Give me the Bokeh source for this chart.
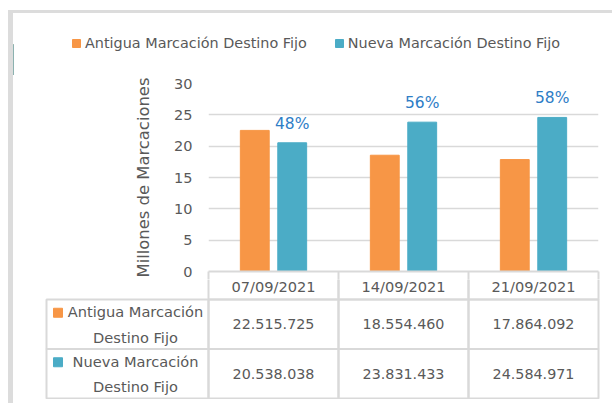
from bokeh.plotting import figure
from bokeh.models import (ColumnDataSource, Range1d, FixedTicker, Legend, LegendItem, LinearAxis)
from bokeh.transform import dodge
from bokeh.layouts import column
from bokeh.embed import file_html
from bokeh.resources import INLINE
from bokeh.core.properties import value

# ---------------- data ----------------
dates = ["07/09/2021", "14/09/2021", "21/09/2021"]
antigua = [22515725, 18554460, 17864092]
nueva = [20538038, 23831433, 24584971]
share_labels = ["48%", "56%", "58%"]
series_names = ["Antigua Marcación Destino Fijo", "Nueva Marcación Destino Fijo"]
row_labels = ["Antigua Marcación\nDestino Fijo", "Nueva Marcación\nDestino Fijo"]
y_ticks = [0, 5, 10, 15, 20, 25, 30]
y_title = "Millones de Marcaciones"

# ---------------- style ----------------
FONT = "DejaVu Sans"
TXT = "#595959"
LINE = "#d9d9d9"
FRAME = "#dcdcdc"
ORANGE = "#F79646"
TEAL = "#4BACC6"
BLUE = "#2E7DC6"

W = 591
HL = 62           # legend strip  (page y 13..75)
HA = 204          # chart          (page y 75..279), frame 83..271
HB = 120          # data table     (page y 279..399)
COLW = 130.0
LABEL_COL = (208 - 46) / COLW
PB_UNIT = 49.5                     # px per table row
HEAD = (299 - 279) / PB_UNIT       # part of the header row inside the table figure
HEAD_TXT = (285.5 - 299) / PB_UNIT

fmt = lambda v: f"{v:,}".replace(",", ".")
ncat = len(dates)
cat_pos = [i + 0.5 for i in range(ncat)]   # column centres (one column per date)

src = ColumnDataSource(dict(
    date=dates,
    pos=cat_pos,
    old_m=[v / 1e6 for v in antigua],
    new_m=[v / 1e6 for v in nueva],
    share=share_labels,
))

# ---------------- legend strip ----------------
pl = figure(x_range=Range1d(0, 1), y_range=Range1d(0, 1), width=W + 8, height=HL,
            min_border_left=0, min_border_right=0, min_border_top=0, min_border_bottom=0,
            x_axis_location=None, y_axis_location=None,
            output_backend="svg", toolbar_location=None)
pl.outline_line_color = None
pl.grid.visible = False
offscreen = ColumnDataSource(dict(x=[-10], top=[0.5]))
l_old = pl.vbar(x="x", top="top", width=0.1, source=offscreen, fill_color=ORANGE, line_color=ORANGE)
l_new = pl.vbar(x="x", top="top", width=0.1, source=offscreen, fill_color=TEAL, line_color=TEAL)
legend = Legend(items=[LegendItem(label=series_names[0], renderers=[l_old]),
                       LegendItem(label=series_names[1], renderers=[l_new])],
                orientation="horizontal", location=(58, 24),
                glyph_width=10, glyph_height=10, label_standoff=4, spacing=27,
                padding=0, margin=0, border_line_color=None, background_fill_alpha=0,
                label_text_font=FONT, label_text_font_size="14.4px", label_text_color=TXT,
                label_height=16)
pl.add_layout(legend)

# ---------------- chart figure ----------------
pa = figure(x_range=Range1d(0, ncat), y_range=Range1d(0, 30), width=W, height=HA,
            min_border_left=195, min_border_right=6, min_border_top=8, min_border_bottom=8,
            x_axis_location=None, output_backend="svg", toolbar_location=None)
pa.outline_line_color = None
pa.xgrid.visible = False
pa.ygrid.ticker = FixedTicker(ticks=y_ticks)
pa.ygrid.grid_line_color = LINE
pa.ygrid.grid_line_width = 1.5

ax = pa.yaxis[0]
ax.ticker = FixedTicker(ticks=y_ticks)
ax.axis_line_color = None
ax.major_tick_line_color = None
ax.minor_tick_line_color = None
ax.major_label_standoff = 10
ax.major_label_text_font = FONT
ax.major_label_text_font_size = "14.5px"
ax.major_label_text_color = TXT
ax.axis_label = y_title
ax.axis_label_standoff = 18
ax.axis_label_text_font = FONT
ax.axis_label_text_font_size = "16.4px"
ax.axis_label_text_font_style = "normal"
ax.axis_label_text_color = TXT

# top edge of the data table: column separators drawn as ticks of the bottom axis
cell_axis = LinearAxis(ticker=FixedTicker(ticks=list(range(ncat + 1))),
                       axis_line_color=LINE, axis_line_width=2,
                       major_tick_in=0, major_tick_out=8, major_tick_line_color=LINE,
                       major_tick_line_width=2, minor_tick_line_color=None,
                       major_label_standoff=0, major_label_text_font_size="1px",
                       major_label_text_alpha=0)
pa.add_layout(cell_axis, "below")

pa.vbar(x=dodge("pos", -0.144), top="old_m", width=0.222,
        source=src, fill_color=ORANGE, line_color=ORANGE)
pa.vbar(x=dodge("pos", 0.144), top="new_m", width=0.222,
        source=src, fill_color=TEAL, line_color=TEAL)
pa.text(x=dodge("pos", 0.144), y="new_m", text="share", source=src,
        y_offset=-19, text_align="center", text_baseline="middle",
        text_font=value(FONT), text_font_size="15.5px", text_color=BLUE)

# ---------------- table figure ----------------
pad = 2 / COLW
pb = figure(x_range=Range1d(-LABEL_COL - pad, ncat + pad), y_range=Range1d(2.02, -HEAD),
            width=W, height=HB, min_border_left=31, min_border_right=4,
            min_border_top=0, min_border_bottom=0,
            x_axis_location=None, y_axis_location=None,
            output_backend="svg", toolbar_location=None)
pb.outline_line_color = None
pb.grid.visible = False

head = ColumnDataSource(dict(l=list(range(ncat)), r=[i + 1 for i in range(ncat)],
                             x=cat_pos, date=dates))
pb.quad(left="l", right="r", top=-2 * HEAD, bottom=0, source=head,
        fill_color=None, line_color=LINE, line_width=2)
pb.text(x="x", y=HEAD_TXT, text="date", source=head, text_align="center", text_baseline="middle",
        text_font=value(FONT), text_font_size="14.6px", text_color=TXT)

cells = dict(l=[], r=[], t=[], b=[], x=[], y=[], txt=[])
for ri, series in enumerate([antigua, nueva]):
    for ci, v in enumerate(series):
        cells["l"].append(ci); cells["r"].append(ci + 1)
        cells["t"].append(ri); cells["b"].append(ri + 1)
        cells["x"].append(ci + 0.5); cells["y"].append(ri + 0.5)
        cells["txt"].append(fmt(v))
csrc = ColumnDataSource(cells)
pb.quad(left="l", right="r", top="t", bottom="b", source=csrc,
        fill_color=None, line_color=LINE, line_width=2)
pb.text(x="x", y="y", text="txt", source=csrc, text_align="center", text_baseline="middle",
        text_font=value(FONT), text_font_size="14.3px", text_color=TXT)

rows = ColumnDataSource(dict(
    l=[-LABEL_COL] * 2, r=[0, 0], t=[0, 1], b=[1, 2],
    y=[0.5, 1.5], txt=row_labels, col=[ORANGE, TEAL],
    sy=[0.5 - 11.5 / PB_UNIT, 1.5 - 11.5 / PB_UNIT],
))
pb.quad(left="l", right="r", top="t", bottom="b", source=rows,
        fill_color=None, line_color=LINE, line_width=2)
pb.text(x=(135 - 208) / COLW, y="y", text="txt", source=rows, text_align="center",
        text_baseline="middle", text_line_height=1.5,
        text_font=value(FONT), text_font_size="14.6px", text_color=TXT)
pb.scatter(x=(57.5 - 208) / COLW, y="sy", source=rows, marker="square", size=9,
           fill_color="col", line_color="col")

side = {"margin-left": "8px", "border-left": f"5px solid {FRAME}"}
legend_box = column(pl, styles=dict(side, **{"margin-top": "10px", "border-top": f"3px solid {FRAME}"}))
chart_box = column(pa, styles=side)
table_box = column(pb, styles=dict(side, **{"padding-bottom": "4px"}))

open("out.html", "w").write(file_html([legend_box, chart_box, table_box], INLINE))
